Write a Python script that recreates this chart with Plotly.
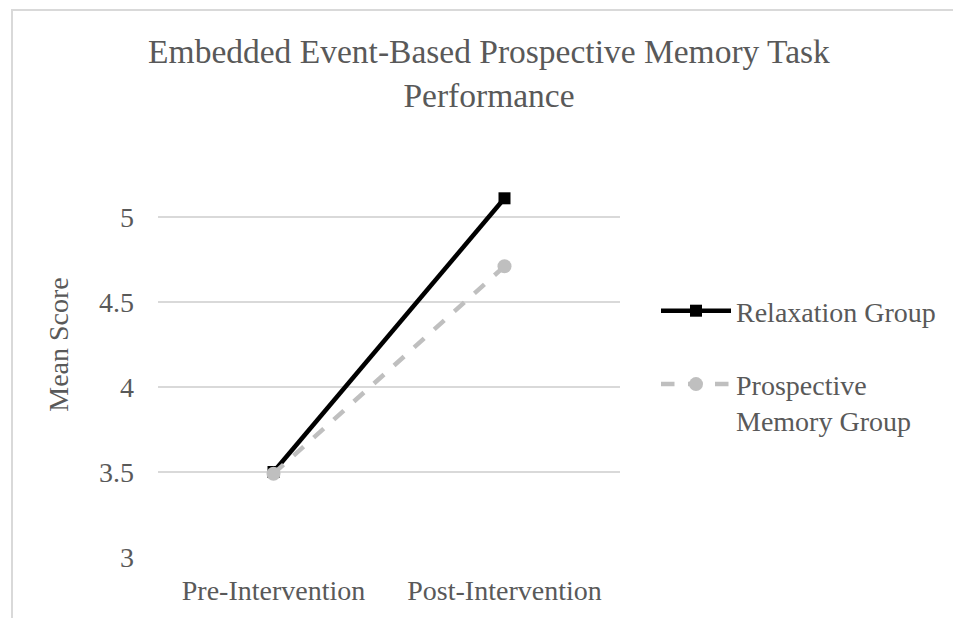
import plotly.graph_objects as go

categories = ["Pre-Intervention", "Post-Intervention"]
relaxation = [3.5, 5.11]
prospective = [3.49, 4.71]
y_ticks = [3, 3.5, 4, 4.5, 5]
y_tick_text = ["3", "3.5", "4", "4.5", "5"]

W, H = 953, 618
L, R, T, B = 158, 333, 132, 61
FONT = "Liberation Serif, Times New Roman, serif"
TXT = "#595959"

fig = go.Figure()
fig.add_trace(go.Scatter(
    x=categories, y=relaxation, name="Relaxation Group", mode="lines+markers",
    legendgroup="g1",
    line=dict(color="black", width=4.5),
    marker=dict(symbol="square", size=12, color="black"),
))
fig.add_trace(go.Scatter(
    x=categories, y=prospective, name="Prospective<br>Memory Group", mode="lines+markers",
    legendgroup="g2",
    line=dict(color="#bfbfbf", width=4.5, dash="dash"),
    marker=dict(symbol="circle", size=14, color="#bfbfbf"),
))

pw = W - L - R
ph = H - T - B
# chart frame border (light gray)
fig.add_shape(type="rect", xref="paper", yref="paper",
              x0=(12 - L) / pw, x1=(W + 20 - L) / pw,
              y0=-(B + 20) / ph, y1=(H - 10 - B) / ph,
              line=dict(color="#d9d9d9", width=2), layer="below")

fig.update_layout(
    width=W, height=H,
    margin=dict(l=L, r=R, t=T, b=B, autoexpand=False),
    paper_bgcolor="white", plot_bgcolor="white",
    font=dict(family=FONT, color=TXT, size=28),
    title=dict(text="Embedded Event-Based Prospective Memory Task<br>Performance",
               x=489 / W, xanchor="center", y=1 - 63 / H, yanchor="top",
               font=dict(size=33.5, color=TXT, family=FONT)),
    xaxis=dict(range=[-0.5, 1.5], showgrid=False, showline=False, zeroline=False,
               ticks="", automargin=False, ticklabelstandoff=14,
               tickfont=dict(size=28, color=TXT)),
    yaxis=dict(range=[3, 5.5], tickvals=y_ticks, ticktext=y_tick_text,
               showgrid=True, gridcolor="#d9d9d9", gridwidth=2,
               zeroline=False, showline=False, ticks="", automargin=False,
               ticklabelstandoff=23,
               tickfont=dict(size=28, color=TXT),
               title=dict(text="Mean Score", font=dict(size=28, color=TXT), standoff=22)),
    showlegend=True,
    legend=dict(x=(656 - L) / pw, xanchor="left", y=1 - (286 - T) / ph, yanchor="top",
                font=dict(size=28, color=TXT, family=FONT),
                itemwidth=70, traceorder="grouped", tracegroupgap=34, valign="top",
                bgcolor="rgba(0,0,0,0)"),
)

fig.write_html("out.html", config={"displayModeBar": False},
               post_script="document.body.style.margin='0';")
